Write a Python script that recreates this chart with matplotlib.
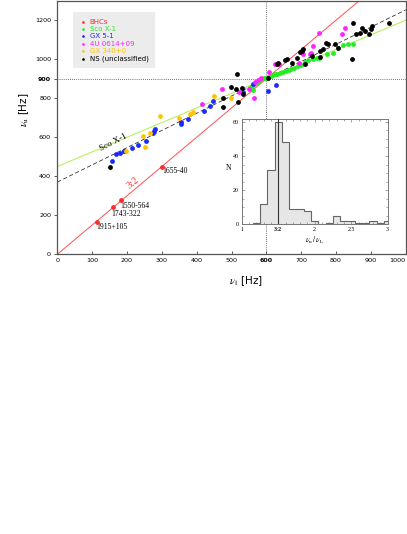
import numpy as np
import matplotlib
matplotlib.use("Agg")
import matplotlib.pyplot as plt

plt.rcParams['mathtext.fontset'] = 'stix'

# ---- data (Hz) ----
bhc_l = [113, 160, 184, 300]
bhc_u = [168, 240, 276, 450]
bhc_names = ['1915+105', '1743-322', '1550-564', '1655-40']
bhc_lab_x = [113, 154, 182, 301]
bhc_lab_y = [140, 209, 248, 425]

sco_l = [558, 562, 566, 570, 575, 580, 587, 593, 600, 606, 612, 618, 625, 632,
         640, 648, 656, 664, 672, 680, 690, 700, 711, 720, 733, 745, 752, 775,
         792, 806, 821, 835, 849]
sco_u = [863, 840, 872, 880, 884, 890, 898, 902, 906, 910, 915, 918, 922, 926,
         930, 934, 940, 945, 950, 955, 963, 970, 985, 995, 1000, 1006, 1008, 1027,
         1032, 1059, 1071, 1077, 1080]

gx5_l = [156, 169, 180, 190, 192, 213, 231, 256, 274, 278, 281, 355, 355, 376,
         422, 438, 448, 534, 561, 606, 628]
gx5_u = [476, 513, 518, 527, 532, 547, 559, 583, 620, 634, 643, 668, 677, 694,
         735, 762, 787, 830, 872, 838, 866]

u0614_l = [416, 472, 522, 551, 564, 567, 577, 584, 607, 625, 637, 694, 704, 725,
           728, 733, 752, 816, 826]
u0614_u = [768, 849, 833, 847, 801, 881, 893, 905, 932, 974, 974, 983, 1025, 1029,
           1034, 1066, 1134, 1130, 1161]

gx340_l = [197, 245, 251, 267, 295, 350, 382, 389, 450, 498]
gx340_u = [532, 604, 552, 623, 707, 700, 718, 727, 809, 801]

ns_l = [151, 475, 476, 498, 512, 515, 518, 529, 534, 606, 630, 634, 653, 658,
        673, 687, 696, 701, 706, 711, 730, 754, 754, 763, 771, 778, 797, 806,
        845, 848, 857, 869, 876, 883, 895, 900, 902, 952]
ns_u = [450, 757, 801, 859, 847, 923, 782, 852, 821, 906, 978, 983, 995, 1003,
        983, 1008, 1036, 1042, 1051, 978, 1017, 1042, 1012, 1051, 1085, 1077, 1077, 1056,
        1000, 1185, 1128, 1136, 1161, 1145, 1131, 1153, 1170, 1187]

# fitted relations
ratio_32 = 1.5
sco_fit = [450, 1200]     # nu_u at nu_l = 0 and 1000
ns_fit = [370, 1253]

# histogram of nu_u / nu_L
hist_edges = [1.15, 1.25, 1.35, 1.45, 1.55, 1.65, 1.75, 1.85, 1.95, 2.05, 2.15,
              2.25, 2.35, 2.45, 2.55, 2.65, 2.75, 2.85, 2.95, 3.05]
hist_counts = [1, 12, 32, 60, 48, 9, 9, 8, 2, 0, 1, 5, 2, 2, 1, 1, 2, 1, 2]

c_red = '#ff2a2a'
c_green = '#22ee22'
c_blue = '#1a2aff'
c_mag = '#ff22ff'
c_gold = '#ffc400'

fig = plt.figure(figsize=(4.07, 5.34), dpi=100)
ax = fig.add_axes([0.1408, 0.5238, 0.856, 0.4749])

xl = np.array([0, 1000])
ax.plot(xl, ratio_32 * xl, color='#ff5050', lw=0.7, zorder=2)
ax.plot(xl, sco_fit, color='#b8f060', lw=0.8, zorder=2)
ax.plot(xl, ns_fit, color='#333333', lw=0.6, ls=(0, (5, 3)), zorder=2)
ax.axhline(900, color='#444444', lw=0.6, ls=(0, (1, 1.5)), zorder=1)
ax.axvline(600, color='#444444', lw=0.6, ls=(0, (1, 1.5)), zorder=1)

ms = 12
ax.scatter(bhc_l, bhc_u, s=ms, color=c_red, lw=0, zorder=4, label='BHCs')
ax.scatter(sco_l, sco_u, s=ms, color=c_green, lw=0, zorder=4, label='Sco X-1')
ax.scatter(gx5_l, gx5_u, s=ms, color=c_blue, lw=0, zorder=4, label='GX 5-1')
ax.scatter(u0614_l, u0614_u, s=ms, color=c_mag, lw=0, zorder=4, label='4U 0614+09')
ax.scatter(gx340_l, gx340_u, s=ms, color=c_gold, lw=0, zorder=4, label='GX 340+0')
ax.scatter(ns_l, ns_u, s=ms, color='black', lw=0, zorder=4, label='NS (unclassified)')

for name, tx, ty in zip(bhc_names, bhc_lab_x, bhc_lab_y):
    ax.text(tx, ty, name, fontsize=5.5, family='Liberation Serif', ha='left', va='center')

ax.text(160, 572, 'Sco X-1', fontsize=6.5, family='Liberation Serif', rotation=27,
        ha='center', va='center')
ax.text(217, 364, '3:2', fontsize=7.5, family='Liberation Serif', color=c_red,
        rotation=40, ha='center', va='center')

ax.set_xlim(0, 1000)
ax.set_ylim(0, 1300)
ax.set_xticks(range(0, 1001, 100))
ax.set_yticks([0, 200, 400, 600, 800, 900, 1000, 1200])
ax.tick_params(axis='x', direction='in', length=2.5, labelsize=4.6, pad=3,
               width=0.6, color='#444444')
ax.tick_params(axis='y', direction='out', length=2.5, labelsize=4.6, pad=2,
               width=0.6, color='#444444', right=True)
for lab in ax.get_xticklabels():
    if lab.get_text() == '600':
        lab.set_fontweight('bold')
    if lab.get_text() == '1000':
        lab.set_horizontalalignment('right')
for lab in ax.get_yticklabels():
    if lab.get_text() == '900':
        lab.set_fontweight('bold')
for sp in ax.spines.values():
    sp.set_color('#555555')
    sp.set_linewidth(0.9)

ax.set_xlabel(r'$\nu_{\,\rm l}$ [Hz]', fontsize=7.5, labelpad=5)
ax.xaxis.set_label_coords(0.54, -0.08)
ax.set_ylabel(r'$\nu_{\rm u}$ [Hz]', fontsize=7.5)
ax.yaxis.set_label_coords(-0.075, 0.57)

leg = ax.legend(loc='upper left', bbox_to_anchor=(0.035, 0.968), fontsize=5,
                frameon=True, fancybox=False, facecolor='#ececec', edgecolor='none',
                framealpha=1, markerscale=0.55, handletextpad=0.3, handlelength=1.2,
                labelspacing=0.2, borderpad=0.9,
                labelcolor=[c_red, c_green, c_blue, c_mag, c_gold, 'black'])

# ---- inset histogram ----
ax2 = fig.add_axes([0.5939, 0.5800, 0.3587, 0.1966])
ax2.stairs(hist_counts, hist_edges, fill=True, color='#e6e6e6', zorder=1)
ax2.stairs(hist_counts, hist_edges, color='#666666', lw=0.8, zorder=2)
ax2.axvline(1.5, color='#333333', lw=0.8, zorder=3)
ax2.set_xlim(1, 3)
ax2.set_ylim(0, 61.5)
ax2.set_xticks([1, 1.5, 2, 2.5, 3])
ax2.set_xticklabels(['1', '3:2', '2', '2.5', '3'], family='Liberation Serif')
ax2.get_xticklabels()[1].set_fontweight('bold')
ax2.set_xticks(np.arange(1, 3.01, 0.1), minor=True)
ax2.set_yticks([0, 20, 40, 60])
ax2.set_yticklabels(['0', '20', '40', '60'], family='Liberation Serif')
ax2.set_yticks(range(0, 61, 5), minor=True)
ax2.tick_params(which='both', direction='in', top=True, right=True,
                labelsize=4.3, pad=2, width=0.4, color='#666666')
ax2.tick_params(which='major', length=2.5)
ax2.tick_params(which='minor', length=1.3)
for sp in ax2.spines.values():
    sp.set_color('#777777')
    sp.set_linewidth(0.7)
ax2.set_ylabel('N', fontsize=5.5, family='Liberation Serif', rotation=0, labelpad=6)
ax2.yaxis.set_label_coords(-0.09, 0.5)
ax2.set_xlabel(r'$\nu_{\rm u}\,/\,\nu_{\rm L}$', fontsize=5.5, labelpad=2)

fig.savefig('out.png', dpi=100)
